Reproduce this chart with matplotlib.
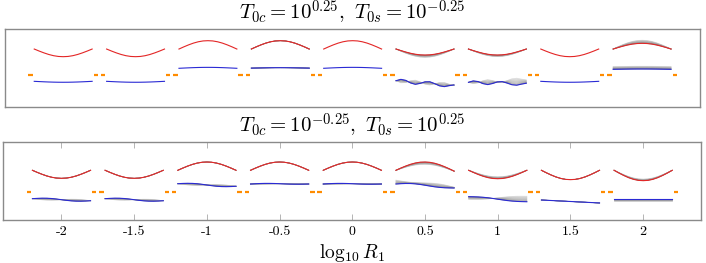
import numpy as np
import matplotlib.pyplot as plt

plt.rcParams['mathtext.fontset'] = 'cm'

# mini-plot centres along log10 R1
centers = [-2, -1.5, -1, -0.5, 0, 0.5, 1, 1.5, 2]
tick_labels = ['-2', '-1.5', '-1', '-0.5', '0', '0.5', '1', '1.5', '2']
titles = [r'$T_{0c} = 10^{0.25},\ T_{0s} = 10^{-0.25}$',
          r'$T_{0c} = 10^{-0.25},\ T_{0s} = 10^{0.25}$']

# shapes (13 samples across one mini-plot)
bump = [0, .26, .5, .71, .87, .97, 1, .97, .87, .71, .5, .26, 0]
wave1 = [0, .5, .87, 1, .87, .5, 0, -.5, -.87, -1, -.87, -.5, 0]
wave2 = [0, .9, .6, -.5, -1, -.3, .7, .95, .2, -.7, -.9, -.2, .4]
ens_k = [0, .125, .25, .375, .5, .625, .75, .875, 1]
ens_grey = ['0.2', '0.3', '0.4', '0.45', '0.5', '0.55', '0.6', '0.65', '0.7']

# top panel (values in panel units, 0 = bottom of box, 1 = top)
red_L_A = [0.747, 0.747, 0.747, 0.747, 0.747, 0.747, 0.747, 0.747, 0.747]
red_R_A = [0.747, 0.747, 0.747, 0.747, 0.747, 0.747, 0.747, 0.747, 0.747]
red_mid_A = [0.649, 0.649, 0.854, 0.854, 0.854, 0.670, 0.670, 0.649, 0.820]
red_gspread_A = [0, 0, 0, 0, 0, -0.03, -0.02, 0, 0.04]
blue_L_A = [0.333, 0.333, 0.500, 0.502, 0.500, 0.341, 0.320, 0.333, 0.487]
blue_R_A = [0.333, 0.333, 0.500, 0.502, 0.500, 0.277, 0.300, 0.333, 0.487]
blue_bump_A = [-0.012, -0.012, 0.012, 0.006, 0.012, 0, 0, -0.012, 0.004]
w1amp_A = [0, 0, 0, 0, 0, 0, 0, 0, 0]
w2amp_A = [0, 0, 0, 0, 0, 0.025, 0.022, 0, 0]
gfanL_A = [0, 0, 0, 0, 0, 0, 0, 0, 0.035]
gfanR_A = [0, 0, 0, 0, 0, 0.01, 0.06, 0, 0.035]
has_grey_A = [0, 0, 0, 1, 0, 1, 1, 0, 1]
orange_A = 0.414

# bottom panel
red_L_B = [0.641, 0.641, 0.641, 0.641, 0.641, 0.641, 0.641, 0.641, 0.641]
red_R_B = [0.641, 0.641, 0.641, 0.641, 0.641, 0.630, 0.641, 0.641, 0.641]
red_mid_B = [0.538, 0.538, 0.747, 0.747, 0.747, 0.747, 0.533, 0.521, 0.508]
red_gspread_B = [0, 0, 0, 0, 0, -0.03, 0.025, 0, 0.02]
blue_L_B = [0.277, 0.277, 0.469, 0.465, 0.465, 0.465, 0.303, 0.260, 0.277]
blue_R_B = [0.251, 0.251, 0.436, 0.465, 0.465, 0.414, 0.238, 0.222, 0.277]
blue_bump_B = [0, 0, 0, 0.004, 0.004, 0.01, 0, 0, 0]
w1amp_B = [0.012, 0.012, 0.012, 0.005, 0.005, 0.012, 0.008, 0, 0]
w2amp_B = [0, 0, 0, 0, 0, 0, 0, 0, 0]
gfanL_B = [0, 0, 0, 0, 0, 0.05, -0.035, 0, -0.03]
gfanR_B = [0, 0, 0, 0, 0, 0.01, 0.07, 0, -0.03]
has_grey_B = [1, 1, 1, 1, 1, 1, 1, 1, 1]
orange_B = 0.359

s = np.linspace(-0.2, 0.2, len(bump))
ramp = (s + 0.2) / 0.4
bump = np.array(bump)
wave1 = np.array(wave1)
wave2 = np.array(wave2)


def draw_panel(ax, rL, rR, rM, rG, bL, bR, bB, a1, a2, fL, fR, grey, oy):
    for i, x0 in enumerate(centers):
        xs = x0 + s
        rbase = rL[i] + (rR[i] - rL[i]) * ramp
        red = rbase + (rM[i] - (rL[i] + rR[i]) / 2) * bump
        bbase = bL[i] + (bR[i] - bL[i]) * ramp
        wv = a1[i] * wave1 + a2[i] * wave2
        blue = bbase + bB[i] * bump + wv
        if grey[i]:
            for k, g in zip(ens_k, ens_grey):
                rg = red + k * rG[i] * bump
                bg = (bbase + bB[i] * bump + (1 - 2 * k) * wv
                      + k * (fL[i] + (fR[i] - fL[i]) * ramp))
                ax.plot(xs, rg, color=g, lw=0.5, alpha=0.5)
                ax.plot(xs, bg, color=g, lw=0.5, alpha=0.5)
        ax.plot(xs, red, color='#e32626', lw=0.8)
        ax.plot(xs, blue, color='#2a2ad4', lw=0.8)
        for sign in (-1, 1):
            ax.plot([x0 + sign * 0.21, x0 + sign * 0.24], [oy, oy],
                    color='#ff8c00', lw=1.6, solid_capstyle='butt')
    ax.set_xlim(-2.4, 2.4)
    ax.set_ylim(0, 1)
    ax.set_yticks([])
    for sp in ax.spines.values():
        sp.set_color('#8a8a8a')
        sp.set_linewidth(1.0)


fig = plt.figure(figsize=(7.06, 2.63), dpi=100)
axA = fig.add_axes([0.0075, 0.592, 0.984, 0.2966])
axB = fig.add_axes([0.0047, 0.1624, 0.9887, 0.2966])

draw_panel(axA, red_L_A, red_R_A, red_mid_A, red_gspread_A, blue_L_A, blue_R_A,
           blue_bump_A, w1amp_A, w2amp_A, gfanL_A, gfanR_A, has_grey_A, orange_A)
draw_panel(axB, red_L_B, red_R_B, red_mid_B, red_gspread_B, blue_L_B, blue_R_B,
           blue_bump_B, w1amp_B, w2amp_B, gfanL_B, gfanR_B, has_grey_B, orange_B)

axA.set_xticks([])
axA.set_title(titles[0], fontsize=15, pad=6.5)
axB.set_title(titles[1], fontsize=15, pad=6.5)

axB.set_xticks(centers)
axB.set_xticklabels(tick_labels, fontfamily='cmr10')
axB.tick_params(axis='x', direction='in', top=True, length=4.5, width=0.6,
                color='#a8a8a8', labelsize=10, pad=4)
axB.set_xlabel(r'$\log_{10} R_1$', fontsize=14, labelpad=3)

fig.savefig('out.png', dpi=100)
